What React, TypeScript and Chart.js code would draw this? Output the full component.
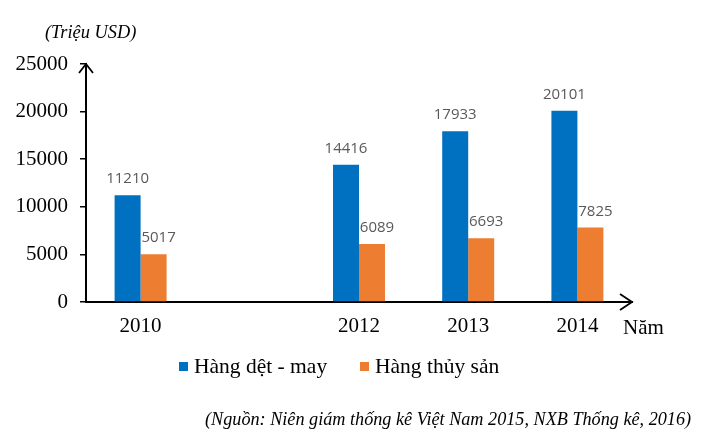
import React, { useEffect, useRef } from "react";
import { Chart, registerables } from "chart.js";

Chart.register(...registerables);

const categories = ["2010", "2011", "2012", "2013", "2014"];
const xTickLabels = ["2010", "", "2012", "2013", "2014"];
const seriesNames = ["Hàng dệt - may", "Hàng thủy sản"];
const detMay = [11210, null, 14416, 17933, 20101];
const thuySan = [5017, null, 6089, 6693, 7825];
const seriesColors = ["#0070C0", "#ED7D31"];
const unitLabel = "(Triệu USD)";
const xAxisName = "Năm";
const sourceText = "(Nguồn: Niên giám thống kê Việt Nam 2015, NXB Thống kê, 2016)";

const SERIF = "'Liberation Serif', 'Times New Roman', serif";

const decorPlugin = {
  id: "decor",
  afterDraw(chart: any) {
    const ctx = chart.ctx;
    const area = chart.chartArea;
    ctx.save();
    // arrows
    ctx.strokeStyle = "#000";
    ctx.lineWidth = 1.8;
    ctx.beginPath();
    ctx.moveTo(area.left - 7, area.top + 9);
    ctx.lineTo(area.left, area.top);
    ctx.lineTo(area.left + 7, area.top + 9);
    ctx.stroke();
    ctx.beginPath();
    ctx.moveTo(area.right - 12, area.bottom - 8);
    ctx.lineTo(area.right, area.bottom);
    ctx.lineTo(area.right - 12, area.bottom + 8);
    ctx.stroke();

    // value labels
    ctx.font = "15px 'Open Sans', sans-serif";
    ctx.fillStyle = "#595959";
    ctx.textAlign = "center";
    ctx.textBaseline = "alphabetic";
    chart.data.datasets.forEach((ds: any, di: number) => {
      const meta = chart.getDatasetMeta(di);
      meta.data.forEach((bar: any, i: number) => {
        const v = ds.data[i];
        if (v == null) return;
        const off = di === 1 ? 5 : 0;
        ctx.fillText(String(v), bar.x + off, bar.y - 12);
      });
    });

    // unit label
    ctx.fillStyle = "#000";
    ctx.textAlign = "left";
    ctx.font = "italic 18.4px " + SERIF;
    ctx.fillText(unitLabel, 45, 38);

    // x axis name
    ctx.font = "21px " + SERIF;
    ctx.fillText(xAxisName, 623, 334);

    // legend
    const legendX = [179, 360];
    chart.data.datasets.forEach((ds: any, di: number) => {
      ctx.fillStyle = ds.backgroundColor;
      ctx.fillRect(legendX[di], 362, 9, 9);
      ctx.fillStyle = "#000";
      ctx.font = "21.5px " + SERIF;
      ctx.fillText(ds.label, legendX[di] + 15, 373);
    });

    // source
    ctx.font = "italic 18.2px " + SERIF;
    ctx.fillText(sourceText, 205, 425);
    ctx.restore();
  },
};

export default function App() {
  const ref = useRef<HTMLCanvasElement | null>(null);
  useEffect(() => {
    if (!ref.current) return;
    const chart = new Chart(ref.current, {
      type: "bar",
      data: {
        labels: categories,
        datasets: [
          { label: seriesNames[0], data: detMay, backgroundColor: seriesColors[0] },
          { label: seriesNames[1], data: thuySan, backgroundColor: seriesColors[1] },
        ],
      },
      options: {
        responsive: false,
        animation: false,
        events: [],
        layout: { padding: { left: 0, top: 64, right: 72, bottom: 93 } },
        datasets: { bar: { categoryPercentage: 0.476, barPercentage: 1 } } as any,
        plugins: { legend: { display: false }, tooltip: { enabled: false }, title: { display: false } },
        scales: {
          x: {
            grid: { display: false, drawTicks: false },
            border: { display: true, color: "#000", width: 2 },
            ticks: {
              padding: 12,
              color: "#000",
              font: { family: SERIF, size: 21 },
              maxRotation: 0,
              autoSkip: false,
              callback: (_v: any, i: number) => xTickLabels[i],
            },
            afterFit: (s: any) => { s.height = 40; },
          },
          y: {
            min: 0,
            max: 25000,
            grid: { display: true, drawOnChartArea: false, drawTicks: true, tickLength: 6, color: "#000", lineWidth: 1.5 },
            border: { display: true, color: "#000", width: 2 },
            ticks: {
              stepSize: 5000,
              padding: 12,
              color: "#000",
              font: { family: SERIF, size: 21 },
              callback: (v: any) => String(v),
            },
            afterFit: (s: any) => { s.width = 86; },
          },
        },
      },
      plugins: [decorPlugin],
    });
    return () => chart.destroy();
  }, []);
  return (
    <div style={{ position: "absolute", left: 0, top: 0, width: 704, height: 435, background: "#fff" }}>
      <canvas ref={ref} width={704} height={435} />
    </div>
  );
}
